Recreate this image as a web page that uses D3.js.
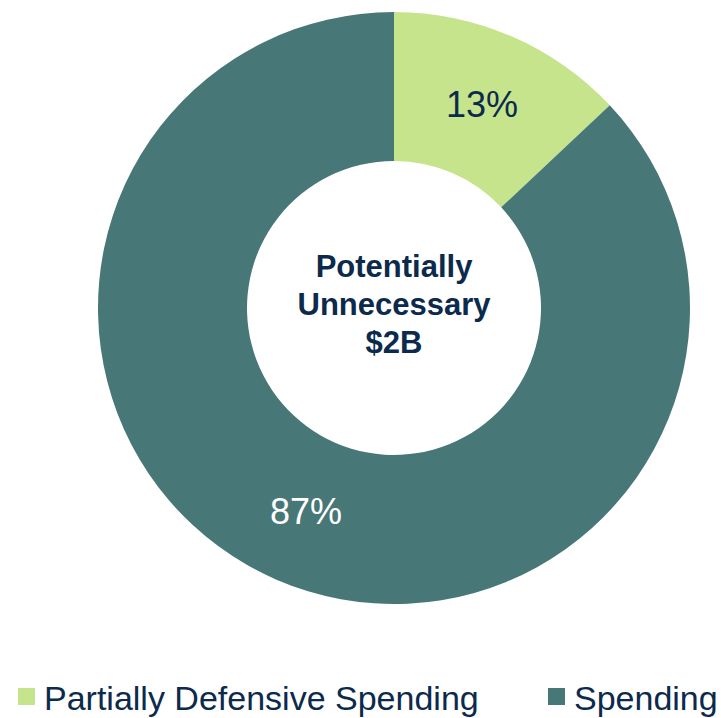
<!DOCTYPE html>
<html>
<head>
<meta charset="utf-8">
<script src="https://cdn.jsdelivr.net/npm/d3@7"></script>
<style>
  body { margin: 0; background: #fff; }
  svg { display: block; font-family: "Liberation Sans", Arial, sans-serif; }
</style>
</head>
<body>
<svg id="chart" width="721" height="718"></svg>
<script>
'use strict';

// Données
const categories = ["Partially Defensive Spending", "Spending"];
const valeurs = [13, 87];
const etiquettes = ["13%", "87%"];
const couleurs = ["#c5e48c", "#487777"];
const texteCentre = ["Potentially", "Unnecessary", "$2B"];

const svg = d3.select("#chart");
const cx = 394, cy = 308;
const rayonExt = 296, rayonInt = 147;

const pie = d3.pie().sort(null).value(d => d);
const arc = d3.arc().innerRadius(rayonInt).outerRadius(rayonExt);

const g = svg.append("g").attr("transform", `translate(${cx},${cy})`);

const parts = pie(valeurs);

g.selectAll("path.part")
    .data(parts)
    .join("path")
    .attr("class", "part")
    .attr("d", arc)
    .attr("fill", (d, i) => couleurs[i]);

// Pourcentages au centre de chaque part
g.selectAll("text.pct")
    .data(parts)
    .join("text")
    .attr("class", "pct")
    .attr("x", d => arc.centroid(d)[0])
    .attr("y", d => arc.centroid(d)[1])
    .attr("dy", "0.35em")
    .attr("text-anchor", "middle")
    .style("font-size", "36px")
    .attr("fill", (d, i) => i === 0 ? "#0c2a4c" : "#ffffff")
    .text((d, i) => etiquettes[i]);

// Texte central
g.selectAll("text.centre")
    .data(texteCentre)
    .join("text")
    .attr("class", "centre")
    .attr("x", 0)
    .attr("y", (d, i) => -31 + i * 38)
    .attr("text-anchor", "middle")
    .style("font-size", "31px")
    .style("font-weight", "bold")
    .attr("fill", "#0c2a4c")
    .text(d => d);

// Légende
const legende = svg.append("g").attr("transform", "translate(0,710)");
const posLegende = [18, 548];
const item = legende.selectAll("g")
    .data(categories)
    .join("g")
    .attr("transform", (d, i) => `translate(${posLegende[i]},0)`);

item.append("rect")
    .attr("x", 0)
    .attr("y", -22)
    .attr("width", 17)
    .attr("height", 17)
    .attr("fill", (d, i) => couleurs[i]);

item.append("text")
    .attr("x", 26)
    .attr("y", 0)
    .style("font-size", "34px")
    .attr("fill", "#0c2a4c")
    .text(d => d);
</script>
</body>
</html>
